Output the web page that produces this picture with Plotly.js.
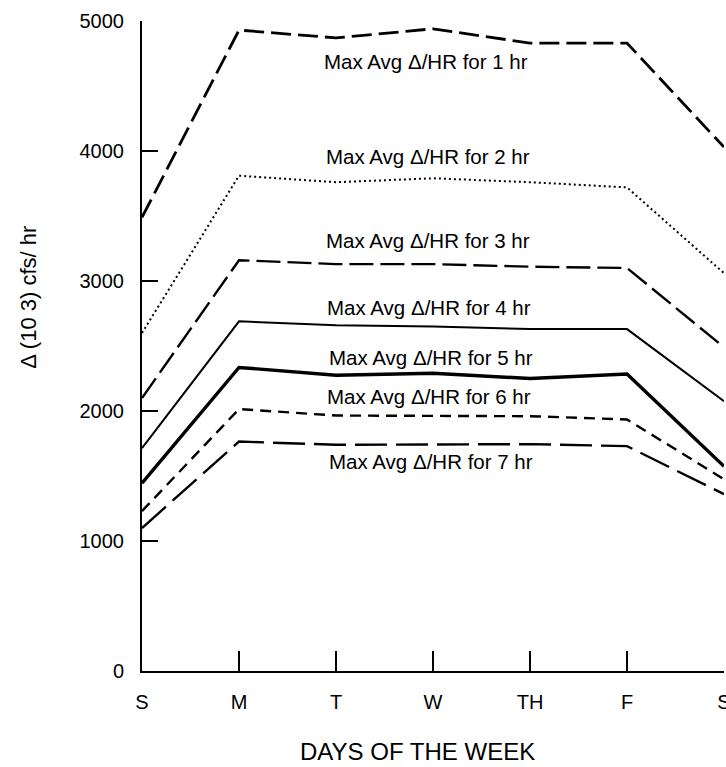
<!DOCTYPE html>
<html><head><meta charset="utf-8">
<script src="https://cdn.plot.ly/plotly-3.0.1.min.js"></script>
<style>html,body{margin:0;padding:0;background:#fff}#chart{width:726px;height:767px}</style>
</head><body><div id="chart"></div>
<script>
// ---- data ----
const dayPos = [0, 1, 2, 3, 4, 5, 6];
const dayLabels = ['S', 'M', 'T', 'W', 'TH', 'F', 'S'];
const hr1 = [3490, 4930, 4870, 4940, 4830, 4830, 4030];
const hr2 = [2600, 3810, 3760, 3790, 3760, 3720, 3060];
const hr3 = [2100, 3160, 3130, 3130, 3110, 3100, 2490];
const hr4 = [1715, 2690, 2660, 2650, 2630, 2630, 2075];
const hr5 = [1445, 2335, 2275, 2290, 2250, 2285, 1575];
const hr6 = [1230, 2015, 1965, 1960, 1960, 1935, 1475];
const hr7 = [1100, 1765, 1740, 1740, 1745, 1730, 1360];
const seriesNames = ['Max Avg Δ/HR for 1 hr', 'Max Avg Δ/HR for 2 hr', 'Max Avg Δ/HR for 3 hr',
  'Max Avg Δ/HR for 4 hr', 'Max Avg Δ/HR for 5 hr', 'Max Avg Δ/HR for 6 hr', 'Max Avg Δ/HR for 7 hr'];
const yTickVals = [0, 1000, 2000, 3000, 4000, 5000];

// ---- styles / positions ----
const series = [hr1, hr2, hr3, hr4, hr5, hr6, hr7];
const lineStyles = [
  {width: 2.8, dash: '20px,7px'},
  {width: 2, dash: '2px,3px'},
  {width: 2.4, dash: '24px,7px'},
  {width: 2, dash: 'solid'},
  {width: 3.4, dash: 'solid'},
  {width: 2.4, dash: '11px,7px'},
  {width: 2.4, dash: '32px,9px'}
];
const labelPos = [[2.93, 4685], [2.95, 3955], [2.95, 3310], [2.96, 2800], [2.98, 2415], [2.96, 2108], [2.98, 1608]];

const traces = series.map((vals, i) => ({
  x: dayPos, y: vals, type: 'scatter', mode: 'lines', name: seriesNames[i],
  line: {color: '#000', width: lineStyles[i].width, dash: lineStyles[i].dash},
  hoverinfo: 'x+y+name'
}));

const font = 'Liberation Sans, Arial, Helvetica, sans-serif';
const annotations = seriesNames.map((t, i) => ({
  x: labelPos[i][0], y: labelPos[i][1], xref: 'x', yref: 'y', text: t, showarrow: false,
  font: {family: font, size: 20.5, color: '#000'}, xanchor: 'center', yanchor: 'middle'
}));
annotations.push({
  x: 0.474, y: -0.1477, xref: 'paper', yref: 'paper', text: 'DAYS OF THE WEEK', showarrow: false,
  font: {family: font, size: 24, color: '#000'}, xanchor: 'center', yanchor: 'bottom'
});
annotations.push({
  x: -0.195, y: 0.575, xref: 'paper', yref: 'paper', text: 'Δ (10 3) cfs/ hr', showarrow: false,
  textangle: -90, font: {family: font, size: 22, color: '#000'}, xanchor: 'center', yanchor: 'middle'
});

const layout = {
  width: 726, height: 767,
  margin: {l: 142, r: 2, t: 21, b: 96},
  paper_bgcolor: '#fff', plot_bgcolor: '#fff',
  showlegend: false,
  font: {family: font, color: '#000'},
  xaxis: {
    range: [0, 6], tickvals: dayPos, ticktext: dayLabels,
    ticks: 'inside', ticklen: 20, tickwidth: 1.5, tickcolor: '#000',
    showline: true, linecolor: '#000', linewidth: 2, showgrid: false, zeroline: false,
    tickfont: {family: font, size: 20, color: '#000'}, ticklabelstandoff: 12,
    ticklabeloverflow: 'allow'
  },
  yaxis: {
    range: [0, 5000], tickvals: yTickVals,
    ticks: 'inside', ticklen: 16, tickwidth: 1.5, tickcolor: '#000',
    showline: true, linecolor: '#000', linewidth: 2, showgrid: false, zeroline: false,
    tickfont: {family: font, size: 20, color: '#000'}, ticklabelstandoff: 12
  },
  annotations: annotations
};

Plotly.newPlot('chart', traces, layout, {displayModeBar: false, staticPlot: true});
</script>
</body></html>
